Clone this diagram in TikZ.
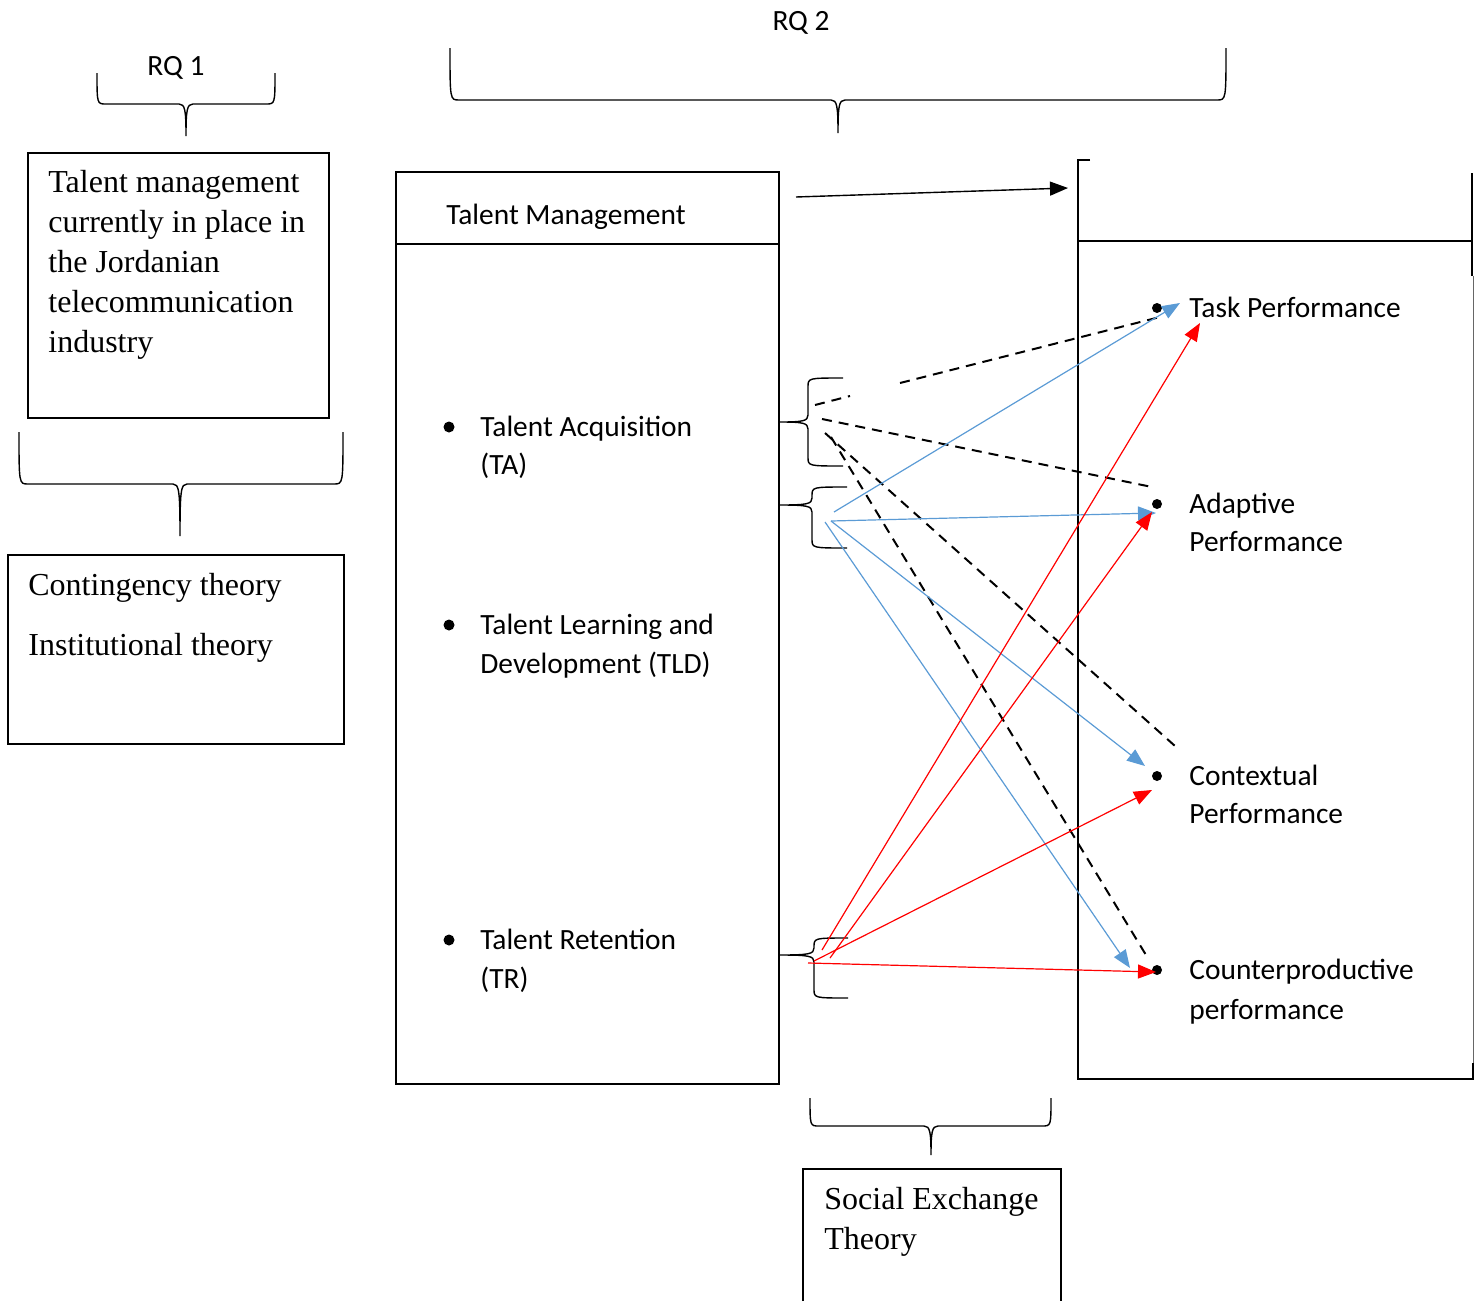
\documentclass[tikz,border=0pt]{standalone}
\usepackage{fontspec}
\setmainfont{Liberation Serif}
\newfontfamily\calib{Carlito}
\usetikzlibrary{arrows.meta}
\definecolor{linkblue}{RGB}{91,155,213}

% brace opening upward, tip pointing down: x1, x2, ytop, yh, xm, ytip
\newcommand{\bracesouth}[6]{%
  \draw[bracepen] (#1,#3) .. controls (#1,#4) and (#1,#4) .. (#1+9,#4)
    -- (#5-7,#4) .. controls (#5-1,#4) and (#5,#4+6) .. (#5,#6)
    .. controls (#5,#4+6) and (#5+1,#4) .. (#5+7,#4)
    -- (#2-9,#4) .. controls (#2,#4) and (#2,#4) .. (#2,#3);}
% brace opening to the right, tip pointing left: xend, xv, ytop, ybot, xtip, ymid
\newcommand{\bracewest}[6]{%
  \draw[bracepen] (#1,#3) .. controls (#2,#3) and (#2,#3) .. (#2,#3+9)
    -- (#2,#6-7) .. controls (#2,#6-1) and (#2-5,#6) .. (#5,#6)
    .. controls (#2-5,#6) and (#2,#6+1) .. (#2,#6+7)
    -- (#2,#4-9) .. controls (#2,#4) and (#2,#4) .. (#1,#4);}

\begin{document}
\begin{tikzpicture}[x=0.5pt,y=-0.5pt,
  bracepen/.style={line width=0.7pt, black},
  thickbox/.style={line width=1.25pt, black},
  thinline/.style={line width=0.65pt, black},
  sanstext/.style={anchor=base west, inner sep=0pt, font=\calib\fontsize{14.7}{19.3}\selectfont},
  seriftext/.style={anchor=base west, inner sep=0pt, align=left, font=\fontsize{16}{20}\selectfont},
  dotmark/.style={circle, fill=black, inner sep=0pt, minimum size=5pt},
  tip/.style={-{Triangle[length=9pt,width=7pt]}},
  dashlink/.style={black, line width=1pt, dash pattern=on 5pt off 3.5pt},
  bluelink/.style={linkblue, line width=0.6pt, tip},
  redlink/.style={red, line width=0.6pt, tip}]

\useasboundingbox (0,0) rectangle (1483,1301);

% ---------- research question 1 ----------
\node[anchor=base, inner sep=0pt, font=\calib\fontsize{14.7}{19.3}\selectfont] (rq1) at (176,75) {RQ 1};
\bracesouth{97}{275}{73}{104}{186}{136}

\draw[thinline] (28,153) rectangle (329,418);
% multi-line nodes are placed by the baseline of their last line
\node[seriftext] (tmcurrent) at (48,352) {Talent management\\currently in place in\\the Jordanian\\telecommunication\\industry};

\bracesouth{19}{343}{432}{484}{180}{536}

\draw[thinline] (8,555) rectangle (344,744);
\node[seriftext] (contingency) at (28,595) {Contingency theory};
\node[seriftext] (institutional) at (28,655) {Institutional theory};

% ---------- research question 2 ----------
\node[anchor=base, inner sep=0pt, font=\calib\fontsize{14.7}{19.3}\selectfont] (rq2) at (801,31) {RQ 2};
\bracesouth{450}{1226}{48}{100}{838}{133}

% ---------- talent management block ----------
\draw[thickbox] (396,172) rectangle (779,1084);
\draw[thinline] (396,244) -- (779,244);
\node[anchor=base, inner sep=0pt, font=\calib\fontsize{14.7}{19.3}\selectfont] (tmhead) at (566,224) {Talent Management};

\node[dotmark, minimum size=5.5pt] (b1) at (449,427) {};
\node[dotmark, minimum size=5.5pt] (b2) at (449,625) {};
\node[dotmark, minimum size=5.5pt] (b3) at (449,940) {};
\node[sanstext] (ta) at (480,436) {Talent Acquisition};
\node[sanstext] (ta2) at (480,474) {(TA)};
\node[sanstext] (tld) at (480,634) {Talent Learning and};
\node[sanstext] (tld2) at (480,673) {Development (TLD)};
\node[sanstext] (tr) at (480,949) {Talent Retention};
\node[sanstext] (tr2) at (480,988) {(TR)};

\bracewest{843}{808}{378}{466}{780}{422}
\bracewest{847}{812}{487}{548}{780}{505}
\bracewest{848}{814}{938}{998}{780}{955}

% ---------- employee performance block ----------
\draw[thickbox] (1090,160) -- (1078,160) -- (1078,1079) -- (1473,1079) -- (1473,1063);
\draw[thickbox] (1472,173) -- (1472,276);
\draw[line width=0.6pt, black!60] (1473.5,276) -- (1473.5,1063);
\draw[thinline] (1078,241) -- (1472,241);

\coordinate (hdrstart) at (796,197);
\coordinate (hdrend) at (1068,188);
\draw[line width=0.7pt, black, tip] (hdrstart) -- (hdrend);

\node[dotmark] (dtask) at (1157,308) {};
\node[dotmark] (dadapt) at (1157,504) {};
\node[dotmark] (dcontext) at (1157,776) {};
\node[dotmark] (dcounter) at (1157,970) {};
\node[sanstext] (task) at (1189,317) {Task Performance};
\node[sanstext] (adapt) at (1189,513) {Adaptive};
\node[sanstext] (adapt2) at (1189,551) {Performance};
\node[sanstext] (context) at (1189,785) {Contextual};
\node[sanstext] (context2) at (1189,823) {Performance};
\node[sanstext] (counter) at (1189,979) {Counterproductive};
\node[sanstext] (counter2) at (1189,1019) {performance};

% ---------- link end points ----------
\coordinate (taA) at (815,405);
\coordinate (taA2) at (850,396);
\coordinate (taB) at (900,383);
\coordinate (taC) at (822,419);
\coordinate (taD) at (825,433);
\coordinate (taE) at (831,437);
\coordinate (dashTask) at (1160,317);
\coordinate (dashAdapt) at (1152,487);
\coordinate (dashContext) at (1175,746);
\coordinate (dashCounter) at (1146,955);

\coordinate (tlA) at (834,512);
\coordinate (tlB) at (831,521);
\coordinate (tlC) at (825,522);
\coordinate (blueTask) at (1180,303);
\coordinate (blueAdapt) at (1156,513);
\coordinate (blueContext) at (1145,766);
\coordinate (blueCounter) at (1130,968);

\coordinate (trA) at (822,950);
\coordinate (trB) at (830,958);
\coordinate (trC) at (814,961);
\coordinate (trD) at (808,963);
\coordinate (redTask) at (1200,323);
\coordinate (redAdapt) at (1152,512);
\coordinate (redContext) at (1152,790);
\coordinate (redCounter) at (1156,972);

% talent acquisition links (dashed)
\draw[dashlink] (taA) -- (taA2);
\draw[dashlink] (taB) -- (dashTask);
\draw[dashlink] (taC) -- (dashAdapt);
\draw[dashlink] (taD) -- (dashContext);
\draw[dashlink] (taE) -- (dashCounter);

% talent learning and development links (blue)
\draw[bluelink] (tlA) -- (blueTask);
\draw[bluelink] (tlB) -- (blueAdapt);
\draw[bluelink] (tlB) -- (blueContext);
\draw[bluelink] (tlC) -- (blueCounter);

% talent retention links (red)
\draw[redlink] (trA) -- (redTask);
\draw[redlink] (trB) -- (redAdapt);
\draw[redlink] (trC) -- (redContext);
\draw[redlink] (trD) -- (redCounter);

% ---------- social exchange theory ----------
\bracesouth{810}{1051}{1098}{1126}{931}{1155}
\draw[thinline] (803,1301) -- (803,1169) -- (1061,1169) -- (1061,1301);
\node[seriftext] (set) at (824,1249) {Social Exchange\\Theory};

\end{tikzpicture}
\end{document}
